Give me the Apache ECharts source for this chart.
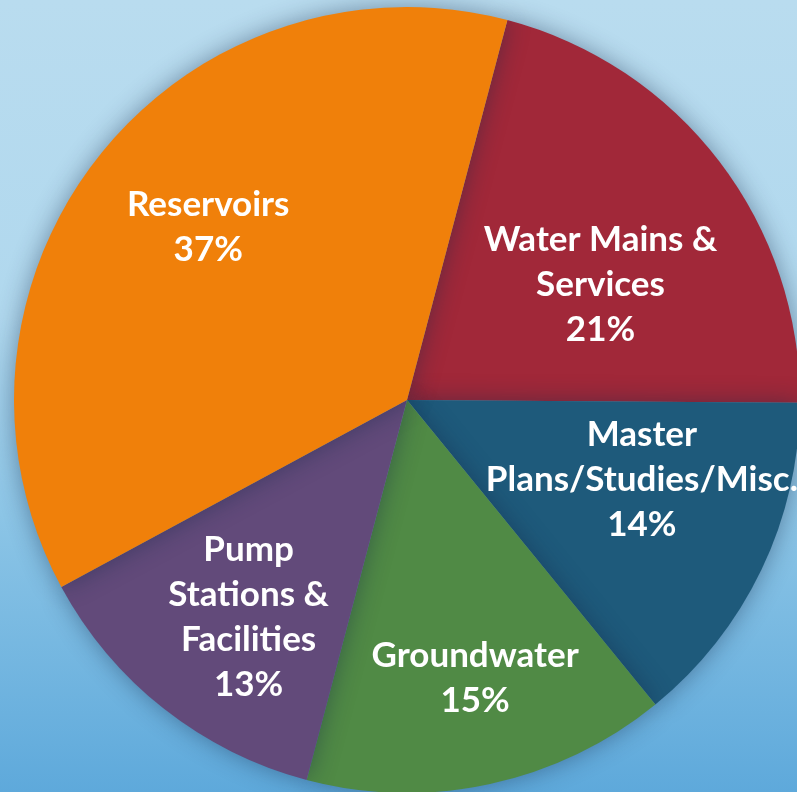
<!DOCTYPE html>
<html>
<head>
<meta charset="utf-8">
<title>Capital Program Breakdown</title>
<script src="https://cdn.jsdelivr.net/npm/echarts@6/dist/echarts.min.js"></script>
<style>
    html, body { margin: 0; padding: 0; }
    body {
        width: 797px;
        height: 792px;
        overflow: hidden;
        background: linear-gradient(to bottom, #b9dcef 0%, #b0d8ee 40%, #8cc5e6 65%, #5ea9db 100%);
    }
    #chart { width: 797px; height: 792px; }
</style>
</head>
<body>
<div id="chart"></div>
<script>
    // slices, clockwise from the top-right
    const categories = ['Water Mains &\nServices', 'Master\nPlans/Studies/Misc.', 'Groundwater', 'Pump\nStations &\nFacilities', 'Reservoirs'];
    const shares = [21, 14, 15, 13, 37];
    const sliceColors = ['#a12839', '#1e5a7b', '#508a45', '#624a7a', '#f0800a'];
    // nudges from the default inside-label spot
    const labelNudge = [[35, 6], [55, -6], [26, 83], [-35, 60], [-42, -49]];

    let myChart = echarts.init(document.getElementById('chart'));
    myChart.setOption({
        animation: false,
        series: [
            {
                type: 'pie',
                center: [407, 400],
                radius: [0, 393],
                startAngle: 75.2,
                clockwise: true,
                silent: true,
                itemStyle: {
                    borderWidth: 0,
                    shadowBlur: 24,
                    shadowColor: 'rgba(20, 40, 70, 0.45)'
                },
                label: {
                    show: true,
                    position: 'inside',
                    color: '#ffffff',
                    fontFamily: 'Lato',
                    fontWeight: 'bold',
                    fontSize: 35,
                    lineHeight: 45,
                    align: 'center',
                    formatter: function (p) {
                        return p.name + '\n' + Math.round(p.percent) + '%';
                    }
                },
                labelLine: { show: false },
                labelLayout: function (p) {
                    return { dx: labelNudge[p.dataIndex][0], dy: labelNudge[p.dataIndex][1] };
                },
                data: categories.map(function (name, i) {
                    return { name: name, value: shares[i], itemStyle: { color: sliceColors[i] } };
                })
            }
        ]
    });
</script>
</body>
</html>
